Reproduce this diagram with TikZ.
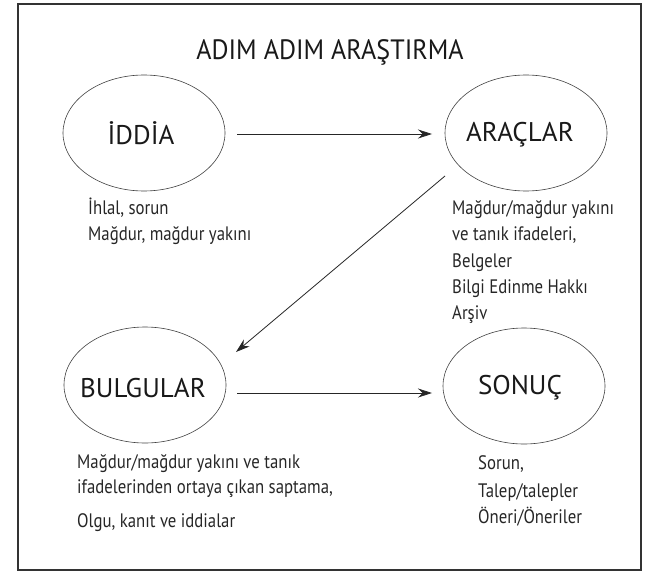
\documentclass[tikz,border=0pt]{standalone}
\usepackage{fontspec}
\setmainfont{PT Sans}
\newfontfamily\narrowfont[FakeStretch=0.86]{PT Sans}
\newfontfamily\titlefont[FakeStretch=0.93]{PT Sans}
\usetikzlibrary{arrows.meta,shapes.geometric}
\begin{document}
\begin{tikzpicture}[x=1pt,y=-1pt,
  frame/.style={draw=black!80,line width=1.4pt},
  oval/.style={draw=black!75,line width=0.6pt,ellipse,minimum width=162pt,minimum height=116pt,inner sep=0pt},
  lbl/.style={font=\fontsize{27}{31}\selectfont,text=black!90},
  ttl/.style={font=\titlefont\fontsize{28}{32}\selectfont,text=black!90},
  small/.style={font=\narrowfont\fontsize{19.5}{23}\selectfont,text=black!85,anchor=mid west,inner sep=0pt},
  arr/.style={draw=black!85,line width=0.8pt,-{Stealth[length=14pt,width=9pt]}}]
\useasboundingbox (0,0) rectangle (647,572);
\draw[frame] (18,4) rectangle (641,570);
\node[ttl] (title) at (330,52) {ADIM ADIM ARAŞTIRMA};
\node[oval] (e1) at (144,133) {};
\node[oval] (e2) at (526,133) {};
\node[oval] (e3) at (145,385) {};
\node[oval] (e4) at (524,386) {};
\node[lbl] (t1) at (141,133) {İDDİA};
\node[lbl] (t2) at (520,135) {ARAÇLAR};
\node[lbl] (t3) at (143,388) {BULGULAR};
\node[lbl] (t4) at (520,388) {SONUÇ};
\coordinate (a1s) at (237,134);
\coordinate (a1e) at (432,134);
\coordinate (a2s) at (445,176);
\coordinate (a2e) at (236,352);
\coordinate (a3s) at (237,393);
\coordinate (a3e) at (432,393);
\draw[arr] (a1s) -- (a1e);
\draw[arr] (a2s) -- (a2e);
\draw[arr] (a3s) -- (a3e);
\node[small] (i1) at (88,212) {İhlal, sorun};
\node[small] (i2) at (88,238) {Mağdur, mağdur yakını};
\node[small] (r1) at (452,212) {Mağdur/mağdur yakını};
\node[small] (r2) at (452,238) {ve tanık ifadeleri,};
\node[small] (r3) at (452,265) {Belgeler};
\node[small] (r4) at (452,291) {Bilgi Edinme Hakkı};
\node[small] (r5) at (452,317) {Arşiv};
\node[small] (b1) at (77,466) {Mağdur/mağdur yakını ve tanık};
\node[small] (b2) at (77,491) {ifadelerinden ortaya çıkan saptama,};
\node[small] (b3) at (77,525) {Olgu, kanıt ve iddialar};
\node[small] (s1) at (478,467) {Sorun,};
\node[small] (s2) at (478,495) {Talep/talepler};
\node[small] (s3) at (478,521) {Öneri/Öneriler};
\end{tikzpicture}
\end{document}
